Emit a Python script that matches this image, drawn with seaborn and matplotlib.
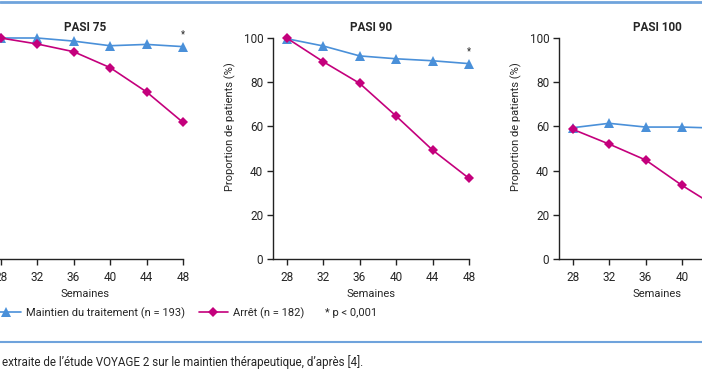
import seaborn as sns
import pandas as pd
import numpy as np
import matplotlib.pyplot as plt
from matplotlib.lines import Line2D

# Données (VOYAGE 2, maintien thérapeutique)
semaines = [28, 32, 36, 40, 44, 48]
panneaux = ["PASI 75", "PASI 90", "PASI 100"]

maintien_75 = [100, 100, 98.6, 96.5, 97.1, 96.1]
arret_75 = [100, 97.3, 93.8, 86.6, 75.6, 61.8]

maintien_90 = [99.7, 96.4, 91.9, 90.6, 89.7, 88.4]
arret_90 = [100, 89.3, 79.5, 64.7, 49.3, 36.5]

maintien_100 = [59.4, 61.4, 59.7, 59.7, 59.2, 58.0]
arret_100 = [58.7, 52.0, 44.8, 33.3, 23.0, 15.0]

groupes = ["Maintien du traitement (n = 193)", "Arrêt (n = 182)"]
note = "* p < 0,001"
legende_figure = "extraite de l’étude VOYAGE 2 sur le maintien thérapeutique, d’après [4]."

bleu = "#4a90d9"
magenta = "#c4007c"
filet = "#6fa3dc"

# Table longue pour seaborn
lignes = []
for pan, m, a in zip(panneaux,
                     [maintien_75, maintien_90, maintien_100],
                     [arret_75, arret_90, arret_100]):
    for s, vm, va in zip(semaines, m, a):
        lignes.append((pan, s, groupes[0], vm))
        lignes.append((pan, s, groupes[1], va))
df = pd.DataFrame(lignes, columns=["panneau", "semaine", "groupe", "valeur"])

sns.set_style("white")
plt.rcParams["font.family"] = ["Roboto", "DejaVu Sans"]
plt.rcParams["font.size"] = 8

W, H = 702, 370
fig = plt.figure(figsize=(W / 100, H / 100), dpi=100)

# position des axes en pixels (gauche de l'axe y, haut, bas, largeur)
gauches = [-13, 273, 559]
haut, bas, larg = 38, 259, 196

for pan, g in zip(panneaux, gauches):
    ax = fig.add_axes([g / W, 1 - bas / H, larg / W, (bas - haut) / H])
    sub = df[df["panneau"] == pan]
    sns.lineplot(data=sub, x="semaine", y="valeur", hue="groupe", style="groupe",
                 palette={groupes[0]: bleu, groupes[1]: magenta},
                 markers={groupes[0]: "^", groupes[1]: "D"}, dashes=False,
                 markersize=7, markeredgewidth=0, linewidth=1.2,
                 legend=False, clip_on=False, ax=ax)
    # losanges un peu plus petits que les triangles
    for ln in ax.lines:
        if ln.get_marker() == "D":
            ln.set_markersize(5.3)
    ax.set_xlim(26.5, 48)
    ax.set_ylim(0, 100)
    ax.set_xticks(semaines)
    ax.set_yticks(range(0, 101, 20))
    ax.set_title(pan, fontweight="bold", fontsize=8.5, pad=5)
    ax.set_xlabel("Semaines", fontsize=8, labelpad=4)
    ax.set_ylabel("Proportion de patients (%)", fontsize=8)
    ax.yaxis.set_label_coords(-0.19, 0.6)
    for sp in ["top", "right"]:
        ax.spines[sp].set_visible(False)
    for sp in ["left", "bottom"]:
        ax.spines[sp].set_color("#222222")
        ax.spines[sp].set_linewidth(1.0)
    ax.tick_params(axis="both", length=4, width=1, color="#222222",
                   labelsize=8.5, pad=3, bottom=True, left=True)
    ax.tick_params(axis="x", pad=4.5)
    dernier = sub[(sub["groupe"] == groupes[0]) & (sub["semaine"] == semaines[-1])]["valeur"].iloc[0]
    ax.annotate("*", xy=(semaines[-1], dernier), xytext=(0, 5),
                textcoords="offset points", ha="center", va="bottom", fontsize=7)
    ax.patch.set_visible(False)

# Légende commune
poignees = [
    Line2D([], [], color=bleu, marker="^", markersize=7, markeredgewidth=0, linewidth=1.2),
    Line2D([], [], color=magenta, marker="D", markersize=5.3, markeredgewidth=0, linewidth=1.2),
]
fig.legend(poignees, groupes, loc="center left", bbox_to_anchor=(-8 / W, 1 - 313 / H),
           ncol=2, frameon=False, fontsize=8, handlelength=2.6, handletextpad=0.5,
           columnspacing=1.2, borderaxespad=0, borderpad=0)
fig.text(325 / W, 1 - 313 / H, note, fontsize=8, va="center", ha="left")

# Filets bleus et légende de figure
fig.add_artist(Line2D([0, 1], [1 - 1.5 / H, 1 - 1.5 / H], color=filet, linewidth=2,
                      transform=fig.transFigure))
fig.add_artist(Line2D([0, 1], [1 - 342 / H, 1 - 342 / H], color=filet, linewidth=1.5,
                      transform=fig.transFigure))
fig.text(2 / W, 1 - 362 / H, legende_figure, fontsize=8.4, va="center", ha="left")

fig.savefig("out.png", dpi=100)
